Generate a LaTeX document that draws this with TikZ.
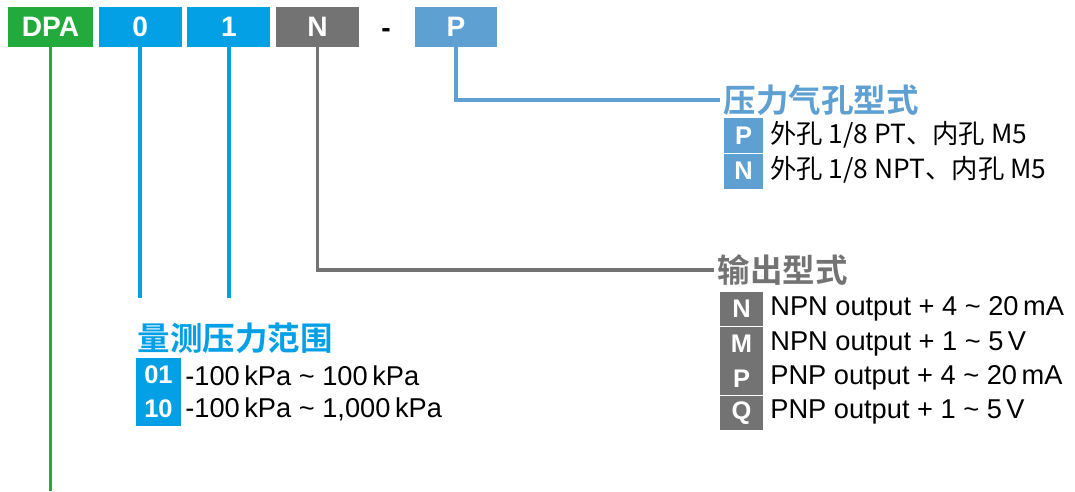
\documentclass[tikz,border=0pt]{standalone}
\usepackage{fontspec}
\setmainfont{Liberation Sans}
\newfontfamily\cjk{Noto Sans CJK SC}[BoldFont={Noto Sans CJK SC Bold}]
\usepackage{xcolor}
\usepackage{tikz}
\usetikzlibrary{positioning}

\definecolor{dpagreen}{HTML}{22AA3C}
\definecolor{rangeblue}{HTML}{04A0E6}
\definecolor{outgray}{HTML}{737373}
\definecolor{portblue}{HTML}{5FA0D2}

\begin{document}
\begin{tikzpicture}[
    x=0.02cm, y=-0.02cm,
    node distance=0cm and 0.1cm,
    codebox/.style={rectangle, minimum width=1.66cm, minimum height=0.8cm,
      inner sep=0pt, text=white, font=\fontsize{16}{18}\selectfont\bfseries},
    keybox/.style={rectangle, inner sep=0pt, text=white,
      font=\fontsize{14.5}{16}\selectfont\bfseries},
    item/.style={anchor=west, inner sep=0pt, font=\fontsize{15.5}{18}\selectfont},
    cjkitem/.style={item, font=\fontsize{15}{18}\selectfont\cjk},
    head/.style={anchor=west, inner sep=2pt, font=\fontsize{18.5}{20}\selectfont\cjk\bfseries},
    link/.style={line width=2.2pt}
]
\useasboundingbox (0,0) rectangle (1075,491);

\node[codebox, fill=dpagreen, minimum width=1.7cm] (dpa) at (50.5,27) {DPA};
\node[codebox, fill=rangeblue, right=of dpa] (code0) {0};
\node[codebox, fill=rangeblue, right=of code0] (code1) {1};
\node[codebox, fill=outgray, right=of code1] (codeN) {N};
\node[codebox, text=black, minimum width=0.4cm] (dash) at (386,33) {-};
\node[codebox, fill=portblue] (codeP) at (456,27) {P};

\node[head, text=portblue] (portT) at (720,100) {压力气孔型式};
\node[keybox, fill=portblue, minimum width=0.78cm, minimum height=0.7cm] (keyP) at (743.5,135.5) {P};
\node[keybox, fill=portblue, minimum width=0.78cm, minimum height=0.7cm, below=of keyP] (keyN) {N};
\node[cjkitem] (portP) at (770,135) {外孔 1/8 PT、内孔 M5};
\node[cjkitem] (portN) at (770,170) {外孔 1/8 NPT、内孔 M5};

\node[head, text=outgray] (outT) at (714,270) {输出型式};
\node[keybox, fill=outgray, minimum width=0.86cm, minimum height=0.68cm] (keyON) at (741.5,309) {N};
\node[keybox, fill=outgray, minimum width=0.86cm, minimum height=0.68cm, below=of keyON] (keyOM) {M};
\node[keybox, fill=outgray, minimum width=0.86cm, minimum height=0.68cm, below=of keyOM] (keyOP) {P};
\node[keybox, fill=outgray, minimum width=0.86cm, minimum height=0.68cm, below=of keyOP] (keyOQ) {Q};
\node[item] (outN) at (770,309) {NPN output + 4 \textasciitilde{} 20\,mA};
\node[item] (outM) at (770,344) {NPN output + 1 \textasciitilde{} 5\,V};
\node[item] (outP) at (770,378) {PNP output + 4 \textasciitilde{} 20\,mA};
\node[item] (outQ) at (770,412) {PNP output + 1 \textasciitilde{} 5\,V};

\node[head, text=rangeblue] (rangeT) at (134,338) {量测压力范围};
\node[keybox, fill=rangeblue, minimum width=0.9cm, minimum height=0.67cm] (key01) at (158.5,375) {01};
\node[keybox, fill=rangeblue, minimum width=0.9cm, minimum height=0.67cm, below=of key01] (key10) {10};
\node[item] (range01) at (185,376) {-100\,kPa \textasciitilde{} 100\,kPa};
\node[item] (range10) at (185,409) {-100\,kPa \textasciitilde{} 1,000\,kPa};

\coordinate (dpaEnd) at (50.5,491);
\coordinate (rangeTop) at (0,298);

\draw[link, dpagreen] (dpa.south) -- (dpaEnd);
\draw[link, rangeblue] (code0.south) -- (code0.south |- rangeTop);
\draw[link, rangeblue] (code1.south) -- (code1.south |- rangeTop);
\draw[link, outgray] (codeN.south) |- (outT.west);
\draw[link, portblue] (codeP.south) |- (portT.west);
\end{tikzpicture}
\end{document}
